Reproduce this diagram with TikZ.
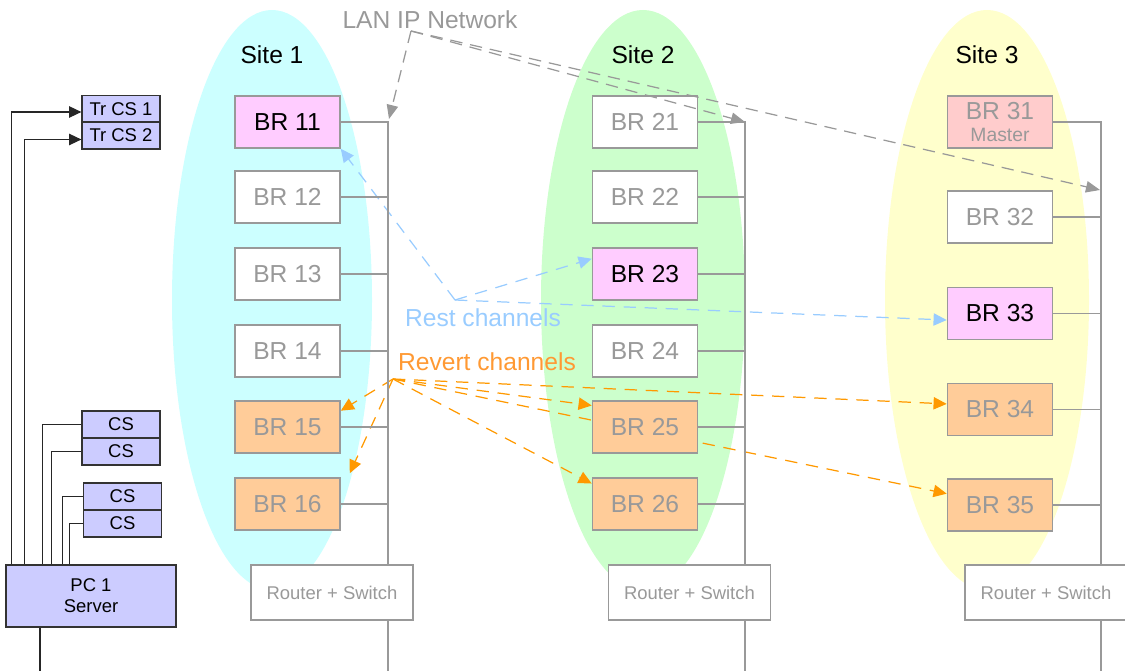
\documentclass[tikz,border=0pt]{standalone}
\usepackage{fontspec}
\setmainfont{Liberation Sans}
\usepackage{xcolor}
\usepackage{tikz}
\usetikzlibrary{arrows.meta,positioning,calc}

\definecolor{cyanfill}{HTML}{CCFFFF}
\definecolor{greenfill}{HTML}{CCFFCC}
\definecolor{yellowfill}{HTML}{FFFFCC}
\definecolor{pinkfill}{HTML}{FFCCFF}
\definecolor{masterfill}{HTML}{FFCCCC}
\definecolor{orangefill}{HTML}{FFCC99}
\definecolor{lavfill}{HTML}{CCCCFF}
\definecolor{brgray}{HTML}{999999}
\definecolor{restblue}{HTML}{99CCFF}
\definecolor{revorange}{HTML}{FF9900}
\definecolor{revlabel}{HTML}{FF9933}

\pgfdeclarelayer{sites}
\pgfdeclarelayer{channels}
\pgfsetlayers{sites,channels,main}

\begin{document}
\begin{tikzpicture}[
x=0.02cm, y=-0.02cm,
big/.style={font=\fontsize{14}{16}\selectfont},
br/.style={
    rectangle, draw=brgray, line width=0.9pt,
    minimum width=2.1cm,
    minimum height=1.04cm,
    inner sep=0pt,
    align=center,
    fill=white, text=brgray,
    font=\fontsize{14}{12}\selectfont
},
rsw/.style={
    rectangle, draw=brgray, line width=0.9pt,
    minimum width=3.24cm,
    minimum height=1.1cm,
    fill=white, text=brgray,
    font=\fontsize{10.5}{12}\selectfont
},
cs/.style={
    rectangle, draw=black!80, line width=0.7pt,
    minimum width=1.56cm,
    minimum height=0.54cm,
    inner sep=0pt,
    fill=lavfill,
    font=\fontsize{10.5}{12}\selectfont
},
wire/.style={draw=brgray, line width=0.8pt},
link/.style={draw=black!85, line width=0.7pt},
tip/.style={-{Triangle[length=7pt, width=6.5pt]}},
lan/.style={draw=brgray, line width=0.7pt, dash pattern=on 7pt off 4.5pt,
    -{Triangle[length=8pt, width=6.5pt]}},
rest/.style={draw=restblue, line width=0.7pt, dash pattern=on 7pt off 5pt,
    -{Triangle[length=7.5pt, width=7pt]}},
revert/.style={draw=revorange, line width=0.7pt, dash pattern=on 7pt off 5pt,
    -{Triangle[length=7.5pt, width=7pt]}}
]
\useasboundingbox (0,0) rectangle (1125,671);

% sites
\begin{pgfonlayer}{sites}
\fill[cyanfill] (272,300) ellipse (100 and 290);
\fill[greenfill] (643,300) ellipse (102 and 290);
\fill[yellowfill] (987,300) ellipse (102 and 290);
\end{pgfonlayer}

\node[big] (site1) at (272,55) {Site 1};
\node[big] (site2) at (643,55) {Site 2};
\node[big] (site3) at (987,55) {Site 3};

% BRs site 1
\node[br, fill=pinkfill, text=black] (br11) at (287.5,122) {BR 11};
\node[br] (br12) at (287.5,197) {BR 12};
\node[br] (br13) at (287.5,274) {BR 13};
\node[br] (br14) at (287.5,351) {BR 14};
\node[br, fill=orangefill] (br15) at (287.5,427) {BR 15};
\node[br, fill=orangefill] (br16) at (287.5,504) {BR 16};

% BRs site 2
\node[br] (br21) at (645,122) {BR 21};
\node[br] (br22) at (645,197) {BR 22};
\node[br, fill=pinkfill, text=black] (br23) at (645,274) {BR 23};
\node[br] (br24) at (645,351) {BR 24};
\node[br, fill=orangefill] (br25) at (645,427) {BR 25};
\node[br, fill=orangefill] (br26) at (645,504) {BR 26};

% BRs site 3
\node[br, fill=masterfill] (br31) at (1000,122) {BR 31\\\fontsize{11}{12}\selectfont Master};
\node[br] (br32) at (1000,217) {BR 32};
\node[br, fill=pinkfill, text=black] (br33) at (1000,313.5) {BR 33};
\node[br, fill=orangefill] (br34) at (1000,409.5) {BR 34};
\node[br, fill=orangefill] (br35) at (1000,505) {BR 35};

% buses
\coordinate (bus1) at (388,671);
\coordinate (bus2) at (745,671);
\coordinate (bus3) at (1101,671);

\draw[wire] (br11) -| (bus1);
\draw[wire] (br12) -- (br12 -| bus1);
\draw[wire] (br13) -- (br13 -| bus1);
\draw[wire] (br14) -- (br14 -| bus1);
\draw[wire] (br15) -- (br15 -| bus1);
\draw[wire] (br16) -- (br16 -| bus1);

\draw[wire] (br21) -| (bus2);
\draw[wire] (br22) -- (br22 -| bus2);
\draw[wire] (br23) -- (br23 -| bus2);
\draw[wire] (br24) -- (br24 -| bus2);
\draw[wire] (br25) -- (br25 -| bus2);
\draw[wire] (br26) -- (br26 -| bus2);

\draw[wire] (br31) -| (bus3);
\draw[wire] (br32) -- (br32 -| bus3);
\draw[wire] (br33) -- (br33 -| bus3);
\draw[wire] (br34) -- (br34 -| bus3);
\draw[wire] (br35) -- (br35 -| bus3);

\node[rsw] (rsw1) at (332,592.5) {Router + Switch};
\node[rsw] (rsw2) at (689.5,592.5) {Router + Switch};
\node[rsw] (rsw3) at (1046,592.5) {Router + Switch};

% LAN
\node[big, text=brgray] (lanlabel) at (430,20) {LAN IP Network};
\coordinate (lan) at (411,31);
\coordinate (lan1) at (389,119);
\coordinate (lan2) at (745,122);
\coordinate (lan3) at (1100,190);
\draw[lan] (lan) -- (lan1);
\draw[lan] (lan) -- (lan2);
\draw[lan] (lan) -- (lan3);

% rest channels
\node[big, text=restblue] (restlabel) at (483,318) {Rest channels};
\coordinate (rest) at (455,300);
\begin{pgfonlayer}{channels}
\draw[rest] (rest) -- (br11.south east);
\draw[rest] (rest) -- (br23.164);
\draw[rest] (rest) -- (br33.187);
\end{pgfonlayer}

% revert channels
\node[big, text=revlabel] (revlabel) at (487,362) {Revert channels};
\coordinate (rev) at (393,379);
\begin{pgfonlayer}{channels}
\draw[revert] (rev) -- (br15.17);
\draw[revert] (rev) -- ($(br16.north east)+(9,-4)$);
\draw[revert] (rev) -- (br25.158);
\draw[revert] (rev) -- (br26.159);
\draw[revert] (rev) -- (br34.174);
\draw[revert] (rev) -- (br35.168);
\end{pgfonlayer}

% control side
\node[cs] (trcs1) at (121,109) {Tr CS 1};
\node[cs] (trcs2) at (121,135.5) {Tr CS 2};
\node[cs] (cs1) at (121,424.5) {CS};
\node[cs] (cs2) at (121,451.5) {CS};
\node[cs] (cs3) at (122.5,496.5) {CS};
\node[cs] (cs4) at (122.5,523.5) {CS};
\node[cs, minimum width=3.4cm, minimum height=1.24cm, align=center] (pc1) at (91,596) {PC 1\\Server};

\draw[link, tip] ($(pc1.north west)+(6,0)$) |- ($(trcs1.west)+(0,3)$);
\draw[link, tip] ($(pc1.north west)+(19,0)$) |- ($(trcs2.west)+(0,4)$);
\draw[link] ($(pc1.north west)+(37,0)$) |- (cs1);
\draw[link] ($(pc1.north west)+(46,0)$) |- (cs2);
\draw[link] ($(pc1.north west)+(57,0)$) |- (cs3);
\draw[link] ($(pc1.north west)+(64,0)$) |- (cs4);
\coordinate (pcout) at (40,671);
\draw[link] (pc1.south -| pcout) -- (pcout);

\end{tikzpicture}
\end{document}
